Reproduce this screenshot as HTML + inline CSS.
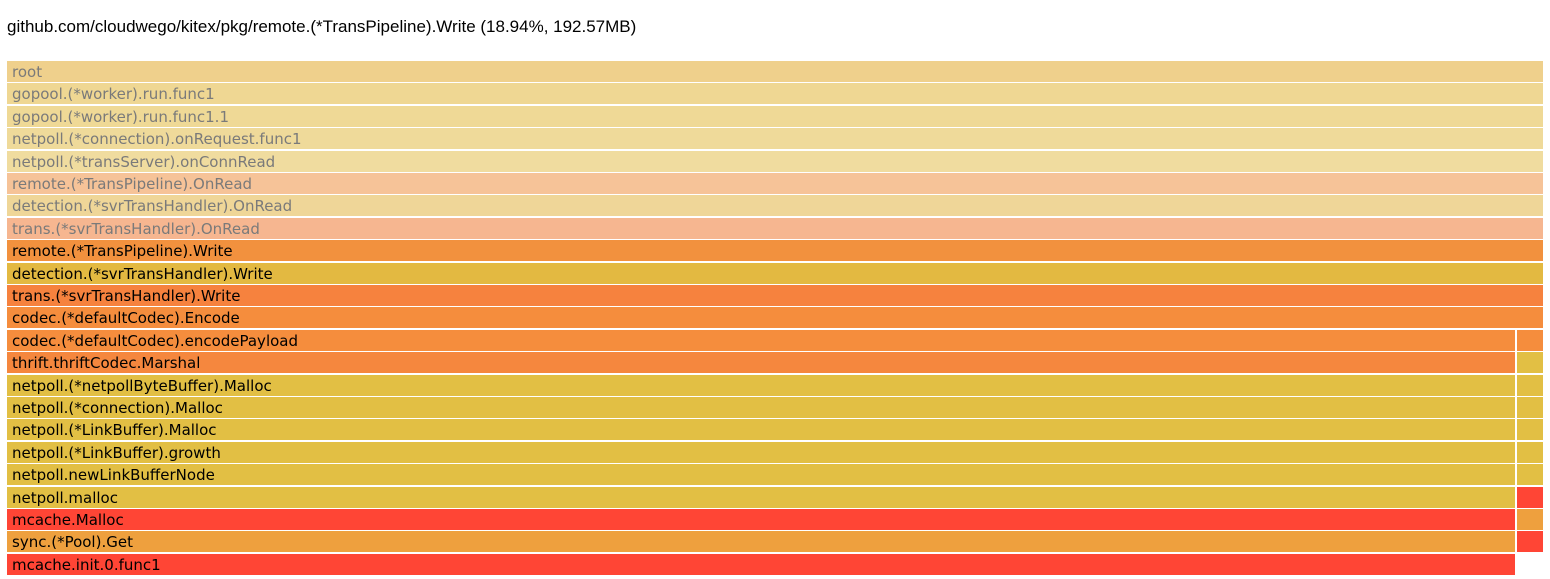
<!DOCTYPE html>
<html><head><meta charset="utf-8"><style>
body{margin:0;width:1550px;height:579px;background:#fff;position:relative;overflow:hidden}
.t{position:absolute;left:7px;top:17px;font:17px "Liberation Sans",sans-serif;color:#000}
.r{position:absolute;height:21px;font:15px "DejaVu Sans",sans-serif;line-height:22px;padding-left:5px;box-sizing:border-box;white-space:nowrap;overflow:hidden}
.g{color:#7a7a7a}
</style></head><body>
<div class="t">github.com/cloudwego/kitex/pkg/remote.(*TransPipeline).Write (18.94%, 192.57MB)</div>
<div class="r g" style="top:61px;left:7px;width:1536px;background:#efd08c">root</div>
<div class="r g" style="top:83.4px;left:7px;width:1536px;background:#efd793">gopool.(*worker).run.func1</div>
<div class="r g" style="top:105.8px;left:7px;width:1536px;background:#efd996">gopool.(*worker).run.func1.1</div>
<div class="r g" style="top:128.2px;left:7px;width:1536px;background:#efda9a">netpoll.(*connection).onRequest.func1</div>
<div class="r g" style="top:150.6px;left:7px;width:1536px;background:#f0dc9f">netpoll.(*transServer).onConnRead</div>
<div class="r g" style="top:173px;left:7px;width:1536px;background:#f6c398">remote.(*TransPipeline).OnRead</div>
<div class="r g" style="top:195.4px;left:7px;width:1536px;background:#efd698">detection.(*svrTransHandler).OnRead</div>
<div class="r g" style="top:217.8px;left:7px;width:1536px;background:#f6b690">trans.(*svrTransHandler).OnRead</div>
<div class="r" style="top:240.2px;left:7px;width:1536px;background:#f2913e">remote.(*TransPipeline).Write</div>
<div class="r" style="top:262.6px;left:7px;width:1536px;background:#e3b941">detection.(*svrTransHandler).Write</div>
<div class="r" style="top:285px;left:7px;width:1536px;background:#f6823e">trans.(*svrTransHandler).Write</div>
<div class="r" style="top:307.4px;left:7px;width:1536px;background:#f58d3d">codec.(*defaultCodec).Encode</div>
<div class="r" style="top:329.8px;left:7px;width:1508px;background:#f58d3d">codec.(*defaultCodec).encodePayload</div>
<div class="r" style="top:329.8px;left:1517px;width:26px;background:#f58d3d"></div>
<div class="r" style="top:352.2px;left:7px;width:1508px;background:#f5873e">thrift.thriftCodec.Marshal</div>
<div class="r" style="top:352.2px;left:1517px;width:26px;background:#e2bf44"></div>
<div class="r" style="top:374.6px;left:7px;width:1508px;background:#e2bf44">netpoll.(*netpollByteBuffer).Malloc</div>
<div class="r" style="top:374.6px;left:1517px;width:26px;background:#e2bf44"></div>
<div class="r" style="top:397px;left:7px;width:1508px;background:#e2bf44">netpoll.(*connection).Malloc</div>
<div class="r" style="top:397px;left:1517px;width:26px;background:#e2bf44"></div>
<div class="r" style="top:419.4px;left:7px;width:1508px;background:#e2bf44">netpoll.(*LinkBuffer).Malloc</div>
<div class="r" style="top:419.4px;left:1517px;width:26px;background:#e2bf44"></div>
<div class="r" style="top:441.8px;left:7px;width:1508px;background:#e2bf44">netpoll.(*LinkBuffer).growth</div>
<div class="r" style="top:441.8px;left:1517px;width:26px;background:#e2bf44"></div>
<div class="r" style="top:464.2px;left:7px;width:1508px;background:#e2bf44">netpoll.newLinkBufferNode</div>
<div class="r" style="top:464.2px;left:1517px;width:26px;background:#e2bf44"></div>
<div class="r" style="top:486.6px;left:7px;width:1508px;background:#e2bf44">netpoll.malloc</div>
<div class="r" style="top:486.6px;left:1517px;width:26px;background:#ff4535"></div>
<div class="r" style="top:509px;left:7px;width:1508px;background:#ff4535">mcache.Malloc</div>
<div class="r" style="top:509px;left:1517px;width:26px;background:#eea03e"></div>
<div class="r" style="top:531.4px;left:7px;width:1508px;background:#eea03e">sync.(*Pool).Get</div>
<div class="r" style="top:531.4px;left:1517px;width:26px;background:#ff4535"></div>
<div class="r" style="top:553.8px;left:7px;width:1508px;background:#ff4535">mcache.init.0.func1</div>
</body></html>
